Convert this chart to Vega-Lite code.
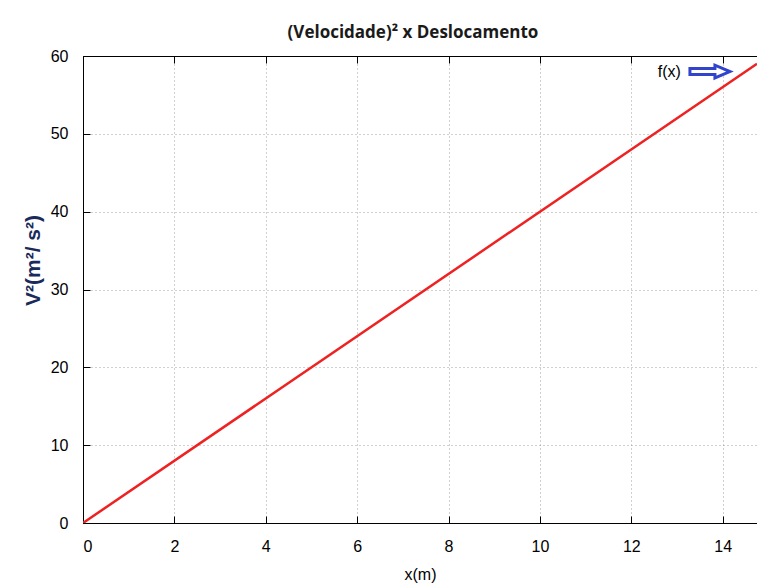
{
  "$schema": "https://vega.github.io/schema/vega-lite/v6.json",
  "width": 674,
  "height": 467,
  "autosize": {"type": "none"},
  "padding": {"left": 83, "top": 56, "right": 0, "bottom": 61},
  "background": "white",
  "title": {
    "text": "(Velocidade)² x Deslocamento",
    "font": "Open Sans",
    "fontSize": 17,
    "fontWeight": "bold",
    "color": "#1a1a1a",
    "anchor": "middle",
    "offset": 6,
    "dx": -7
  },
  "config": {
    "view": {"stroke": "black", "strokeWidth": 1},
    "axis": {
      "labelFont": "Liberation Sans",
      "labelFontSize": 16,
      "labelColor": "black",
      "titleFont": "Liberation Sans",
      "titleFontSize": 16,
      "titleFontWeight": "normal",
      "titleColor": "black",
      "domainColor": "black",
      "tickColor": "black",
      "gridColor": "#a0a0a0",
      "gridDash": [1, 3],
      "gridWidth": 1
    }
  },
  "datasets": {
    "fx": [
      {"x": 0, "v2": 0},
      {"x": 14.75, "v2": 59}
    ],
    "key": [
      {"x": 13.72, "v2": 58.0, "label": "f(x)"}
    ]
  },
  "encoding": {
    "y": {
      "field": "v2", "type": "quantitative",
      "scale": {"domain": [0, 60], "nice": false},
      "axis": {
        "values": [0, 10, 20, 30, 40, 50, 60],
        "title": "V²(m²/ s²)",
        "titleFont": "Liberation Sans",
        "titleFontWeight": "bold",
        "titleFontSize": 21,
        "titleColor": "#1a2a5a",
        "titleX": -40,
        "titleY": 204,
        "titleAngle": -90,
        "titleAlign": "center",
        "titleBaseline": "bottom",
        "tickSize": -7,
        "labelPadding": 22,
        "grid": true
      }
    }
  },
  "layer": [
    {
      "data": {"name": "fx"},
      "mark": {"type": "line", "color": "#ee2222", "strokeWidth": 2.5, "clip": true},
      "encoding": {
        "x": {
          "field": "x", "type": "quantitative",
          "scale": {"domain": [0, 14.75], "nice": false, "zero": false},
          "axis": {
            "values": [0, 2, 4, 6, 8, 10, 12, 14],
            "title": "x(m)",
            "titlePadding": 12,
            "tickSize": -7,
            "labelPadding": 22,
            "grid": true
          }
        }
      }
    },
    {
      "data": {"name": "fx"},
      "mark": {"type": "line", "opacity": 0},
      "encoding": {
        "x": {
          "field": "x", "type": "quantitative",
          "axis": {
            "orient": "top",
            "values": [0, 2, 4, 6, 8, 10, 12, 14],
            "labels": false,
            "title": null,
            "tickSize": -7,
            "grid": false,
            "domain": true
          }
        }
      }
    },
    {
      "data": {"name": "key"},
      "mark": {"type": "text", "align": "right", "baseline": "middle", "font": "Liberation Sans", "fontSize": 16, "color": "black", "dx": -29},
      "encoding": {
        "x": {"field": "x", "type": "quantitative", "axis": null},
        "text": {"field": "label"}
      }
    },
    {
      "data": {"name": "key"},
      "mark": {
        "type": "point",
        "shape": "M-1,-0.15 L0.25,-0.15 L0.25,-0.32 L1,0 L0.25,0.32 L0.25,0.15 L-1,0.15 Z",
        "size": 1600,
        "filled": false,
        "fill": "white",
        "fillOpacity": 1,
        "stroke": "#3344cc",
        "strokeWidth": 3,
        "opacity": 1
      },
      "encoding": {
        "x": {"field": "x", "type": "quantitative", "axis": null}
      }
    }
  ],
  "resolve": {"axis": {"x": "independent"}}
}
